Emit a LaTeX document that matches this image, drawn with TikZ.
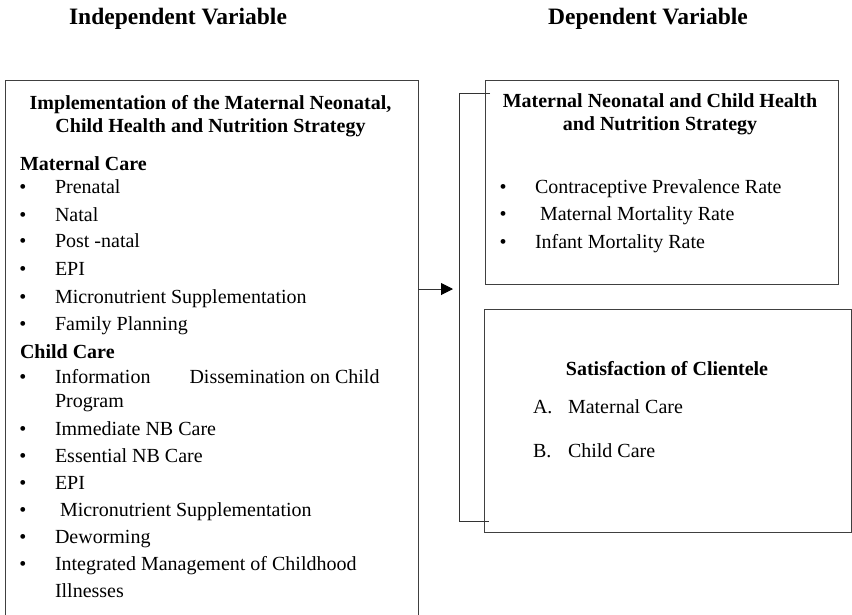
\documentclass[tikz,border=0pt]{standalone}
\usepackage{fontspec}
\setmainfont{Liberation Serif}
\usetikzlibrary{arrows.meta}
\begin{document}
\begin{tikzpicture}[x=1pt,y=-1pt,
  every node/.style={inner sep=0pt, outer sep=0pt},
  frame/.style={draw=black!75, line width=1pt, anchor=north west},
  conn/.style={draw=black!80, line width=1pt},
  arr/.style={conn, -{Triangle[length=12pt,width=12pt,color=black]}},
  head/.style={font=\fontsize{23.5}{28}\selectfont\bfseries, anchor=base},
  ttl/.style={font=\fontsize{20}{24}\selectfont\bfseries, anchor=base},
  sub/.style={font=\fontsize{20}{24}\selectfont\bfseries, anchor=base west},
  item/.style={font=\fontsize{20}{24}\selectfont, anchor=base west},
  dot/.style={font=\fontsize{20}{24}\selectfont, anchor=base}]
\useasboundingbox (0,0) rectangle (852,614);
\clip (0,0) rectangle (852,614);
\fill[white] (0,0) rectangle (852,614);

% headings
\node[head] (hIV) at (178,24) {Independent Variable};
\node[head] (hDV) at (648,24) {Dependent Variable};

% boxes
\node[frame, minimum width=413pt, minimum height=545pt] (L) at (5,80) {};
\node[frame, minimum width=353pt, minimum height=204pt] (T) at (485,80) {};
\node[frame, minimum width=367pt, minimum height=223pt] (B) at (484,309) {};

% left box
\node[ttl] (lt1) at (210.5,109) {Implementation of the Maternal Neonatal,};
\node[ttl] (lt2) at (210.5,132) {Child Health and Nutrition Strategy};
\node[sub] (mc) at (20,170) {Maternal Care};
\node[dot] (d1) at (23,193) {•}; \node[item] (i1) at (55,193) {Prenatal};
\node[dot] (d2) at (23,221) {•}; \node[item] (i2) at (55,221) {Natal};
\node[dot] (d3) at (23,247) {•}; \node[item] (i3) at (55,247) {Post -natal};
\node[dot] (d4) at (23,275) {•}; \node[item] (i4) at (55,275) {EPI};
\node[dot] (d5) at (23,303) {•}; \node[item] (i5) at (55,303) {Micronutrient Supplementation};
\node[dot] (d6) at (23,330) {•}; \node[item] (i6) at (55,330) {Family Planning};
\node[sub] (cc) at (20,358) {Child Care};
\node[dot] (d7) at (23,383) {•}; \node[item] (i7) at (55,383) {Information\hspace{39pt}Dissemination on Child};
\node[item] (i7b) at (55,407) {Program};
\node[dot] (d8) at (23,435) {•}; \node[item] (i8) at (55,435) {Immediate NB Care};
\node[dot] (d9) at (23,462) {•}; \node[item] (i9) at (55,462) {Essential NB Care};
\node[dot] (d10) at (23,489) {•}; \node[item] (i10) at (55,489) {EPI};
\node[dot] (d11) at (23,516) {•}; \node[item] (i11) at (60,516) {Micronutrient Supplementation};
\node[dot] (d12) at (23,543) {•}; \node[item] (i12) at (55,543) {Deworming};
\node[dot] (d13) at (23,570) {•}; \node[item] (i13) at (55,570) {Integrated Management of Childhood};
\node[item] (i13b) at (55,597) {Illnesses};

% right top box
\node[ttl] (rt1) at (660,107) {Maternal Neonatal and Child Health};
\node[ttl] (rt2) at (660,130) {and Nutrition Strategy};
\node[dot] (e1) at (503,193) {•}; \node[item] (r1) at (535,193) {Contraceptive Prevalence Rate};
\node[dot] (e2) at (503,220) {•}; \node[item] (r2) at (540,220) {Maternal Mortality Rate};
\node[dot] (e3) at (503,248) {•}; \node[item] (r3) at (535,248) {Infant Mortality Rate};

% right bottom box
\node[ttl] (bt) at (667,375) {Satisfaction of Clientele};
\node[item] (ba) at (533,413) {A.}; \node[item] (bam) at (568,413) {Maternal Care};
\node[item] (bb) at (533,457) {B.}; \node[item] (bbc) at (568,457) {Child Care};

% connectors
\coordinate (a0) at (418,289);
\coordinate (a1) at (453,289);
\draw[arr] (a0) -- (a1);
\coordinate (kt) at (490,93);
\coordinate (kb) at (489,521);
\draw[conn] (kt) -- (459,93) -- (459,521) -- (kb);
\end{tikzpicture}
\end{document}
